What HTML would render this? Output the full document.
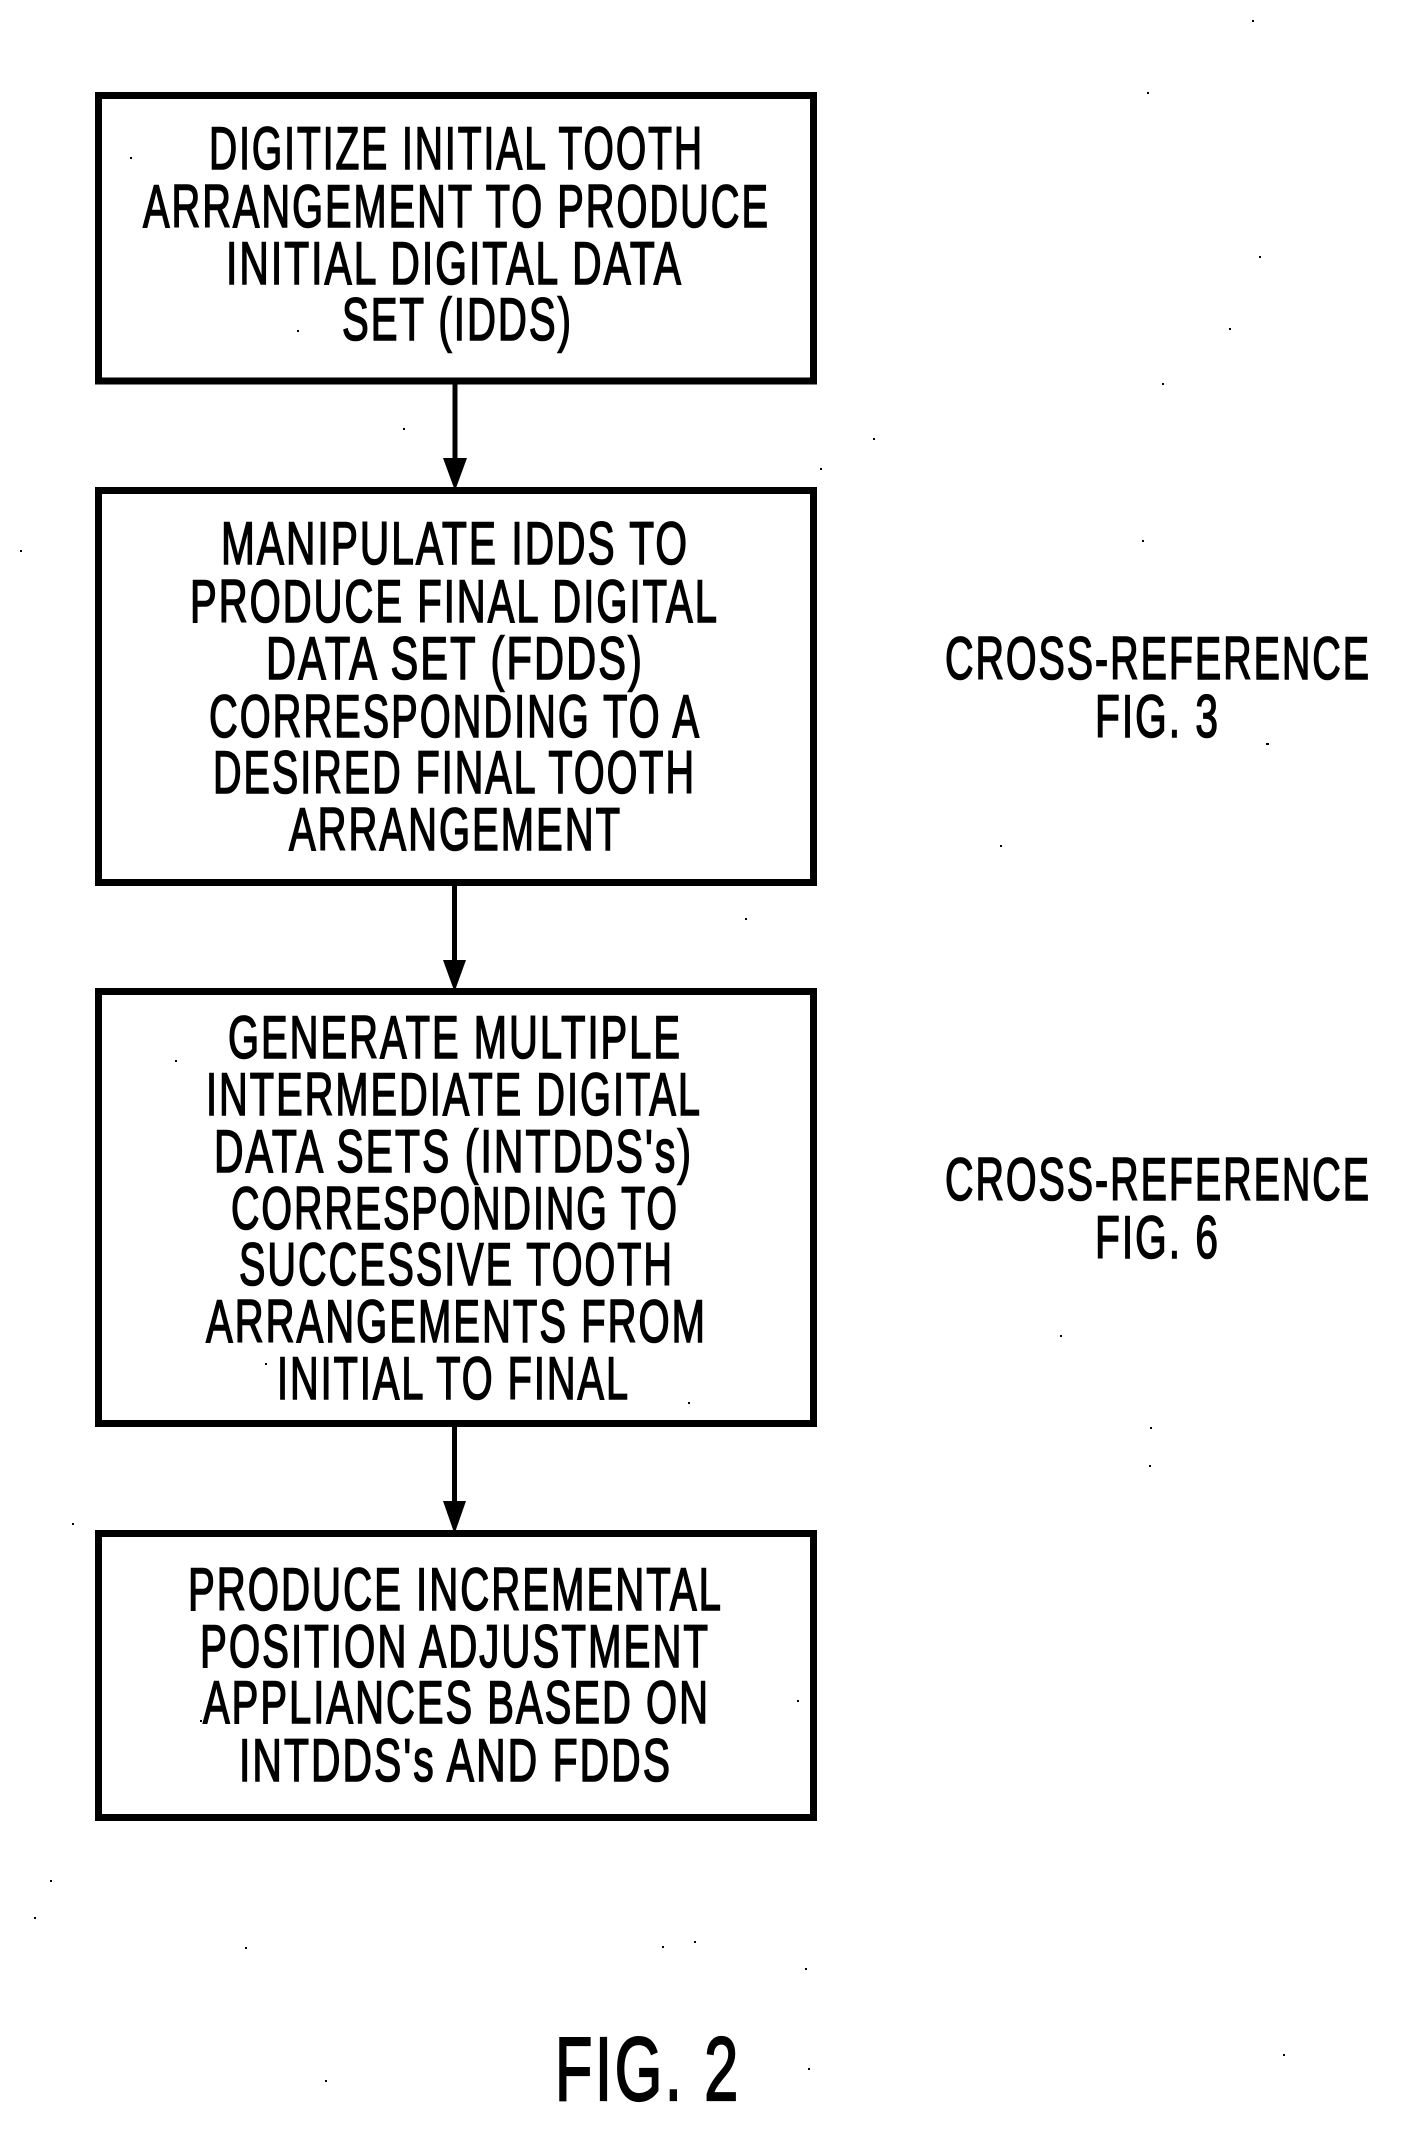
<!DOCTYPE html>
<html><head><meta charset="utf-8"><style>
html,body{margin:0;padding:0;background:#fff}
svg{display:block}
text{font-family:"Liberation Sans",sans-serif;font-size:60px;fill:#000;stroke:#000;stroke-width:1.6px;letter-spacing:3px}
</style></head><body>
<svg width="1417" height="2138" viewBox="0 0 1417 2138" xmlns="http://www.w3.org/2000/svg">
<rect width="1417" height="2138" fill="#fff" style="stroke:none"/>
<g fill="none" stroke="#000" stroke-width="7">
<rect x="98.5" y="95.5" width="715" height="285.5"/>
<rect x="98.5" y="490.5" width="715" height="392"/>
<rect x="98.5" y="991.5" width="715" height="432"/>
<rect x="98.5" y="1533.5" width="715" height="284"/>
</g>
<g fill="#000">
<rect x="452.5" y="384" width="5" height="76"/>
<polygon points="443,458 467,458 456,488 454,488"/>
<rect x="452" y="886" width="5" height="76"/>
<polygon points="443,960 466,960 455.5,989 453.5,989"/>
<rect x="452" y="1427" width="5" height="76"/>
<polygon points="443,1501 466,1501 455.5,1531 453.5,1531"/>
</g>
<g>
<text x="209" y="169" textLength="495" lengthAdjust="spacingAndGlyphs">DIGITIZE INITIAL TOOTH</text>
<text x="143" y="227" textLength="627" lengthAdjust="spacingAndGlyphs">ARRANGEMENT TO PRODUCE</text>
<text x="226" y="284" textLength="457" lengthAdjust="spacingAndGlyphs">INITIAL DIGITAL DATA</text>
<text x="342" y="340" textLength="231" lengthAdjust="spacingAndGlyphs">SET (IDDS)</text>

<text x="221" y="564" textLength="468" lengthAdjust="spacingAndGlyphs">MANIPULATE IDDS TO</text>
<text x="190" y="622" textLength="529" lengthAdjust="spacingAndGlyphs">PRODUCE FINAL DIGITAL</text>
<text x="266" y="679" textLength="378" lengthAdjust="spacingAndGlyphs">DATA SET (FDDS)</text>
<text x="209" y="737" textLength="492" lengthAdjust="spacingAndGlyphs">CORRESPONDING TO A</text>
<text x="213" y="793" textLength="483" lengthAdjust="spacingAndGlyphs">DESIRED FINAL TOOTH</text>
<text x="289" y="850" textLength="333" lengthAdjust="spacingAndGlyphs">ARRANGEMENT</text>

<text x="228" y="1058" textLength="454" lengthAdjust="spacingAndGlyphs">GENERATE MULTIPLE</text>
<text x="206" y="1115" textLength="496" lengthAdjust="spacingAndGlyphs">INTERMEDIATE DIGITAL</text>
<text x="214" y="1172" textLength="479" lengthAdjust="spacingAndGlyphs">DATA SETS (INTDDS's)</text>
<text x="231" y="1229" textLength="448" lengthAdjust="spacingAndGlyphs">CORRESPONDING TO</text>
<text x="239" y="1285" textLength="435" lengthAdjust="spacingAndGlyphs">SUCCESSIVE TOOTH</text>
<text x="206" y="1342" textLength="501" lengthAdjust="spacingAndGlyphs">ARRANGEMENTS FROM</text>
<text x="277" y="1399" textLength="353" lengthAdjust="spacingAndGlyphs">INITIAL TO FINAL</text>

<text x="188" y="1610" textLength="535" lengthAdjust="spacingAndGlyphs">PRODUCE INCREMENTAL</text>
<text x="200" y="1667" textLength="510" lengthAdjust="spacingAndGlyphs">POSITION ADJUSTMENT</text>
<text x="203" y="1723" textLength="507" lengthAdjust="spacingAndGlyphs">APPLIANCES BASED ON</text>
<text x="239" y="1781" textLength="433" lengthAdjust="spacingAndGlyphs">INTDDS's AND FDDS</text>

<text x="945" y="679" textLength="426" lengthAdjust="spacingAndGlyphs">CROSS-REFERENCE</text>
<text x="1095" y="737" textLength="125" lengthAdjust="spacingAndGlyphs">FIG. 3</text>
<text x="945" y="1200" textLength="426" lengthAdjust="spacingAndGlyphs">CROSS-REFERENCE</text>
<text x="1095" y="1258" textLength="125" lengthAdjust="spacingAndGlyphs">FIG. 6</text>

<text x="555" y="2100" textLength="186" lengthAdjust="spacingAndGlyphs" style="font-size:90px;stroke-width:2.2px;letter-spacing:4px">FIG. 2</text>
</g>
<g fill="#000">
<rect x="130" y="157" width="2" height="2"/><rect x="297" y="330" width="2" height="2"/>
<rect x="1252" y="20" width="2" height="2"/><rect x="1147" y="92" width="2" height="2"/>
<rect x="1259" y="256" width="2" height="2"/><rect x="1229" y="328" width="2" height="2"/>
<rect x="1162" y="383" width="2" height="2"/><rect x="873" y="438" width="2" height="2"/>
<rect x="820" y="468" width="2" height="2"/><rect x="403" y="428" width="2" height="2"/>
<rect x="20" y="550" width="2" height="2"/><rect x="1142" y="540" width="2" height="2"/>
<rect x="1266" y="743" width="3" height="2"/><rect x="1000" y="845" width="2" height="2"/>
<rect x="745" y="918" width="2" height="2"/><rect x="175" y="1060" width="2" height="2"/>
<rect x="688" y="1402" width="2" height="2"/><rect x="265" y="1363" width="2" height="2"/>
<rect x="797" y="1700" width="2" height="2"/><rect x="200" y="1720" width="2" height="2"/>
<rect x="72" y="1523" width="2" height="2"/><rect x="1060" y="1335" width="2" height="2"/>
<rect x="1150" y="1427" width="2" height="2"/><rect x="1149" y="1465" width="2" height="2"/>
<rect x="662" y="1946" width="2" height="2"/><rect x="694" y="1941" width="2" height="2"/>
<rect x="805" y="1968" width="2" height="2"/><rect x="808" y="2068" width="2" height="2"/>
<rect x="1283" y="2054" width="2" height="2"/><rect x="34" y="1917" width="2" height="2"/>
<rect x="50" y="1880" width="2" height="2"/><rect x="245" y="1947" width="2" height="2"/>
<rect x="325" y="2080" width="2" height="2"/>
</g>
</svg>
</body></html>
